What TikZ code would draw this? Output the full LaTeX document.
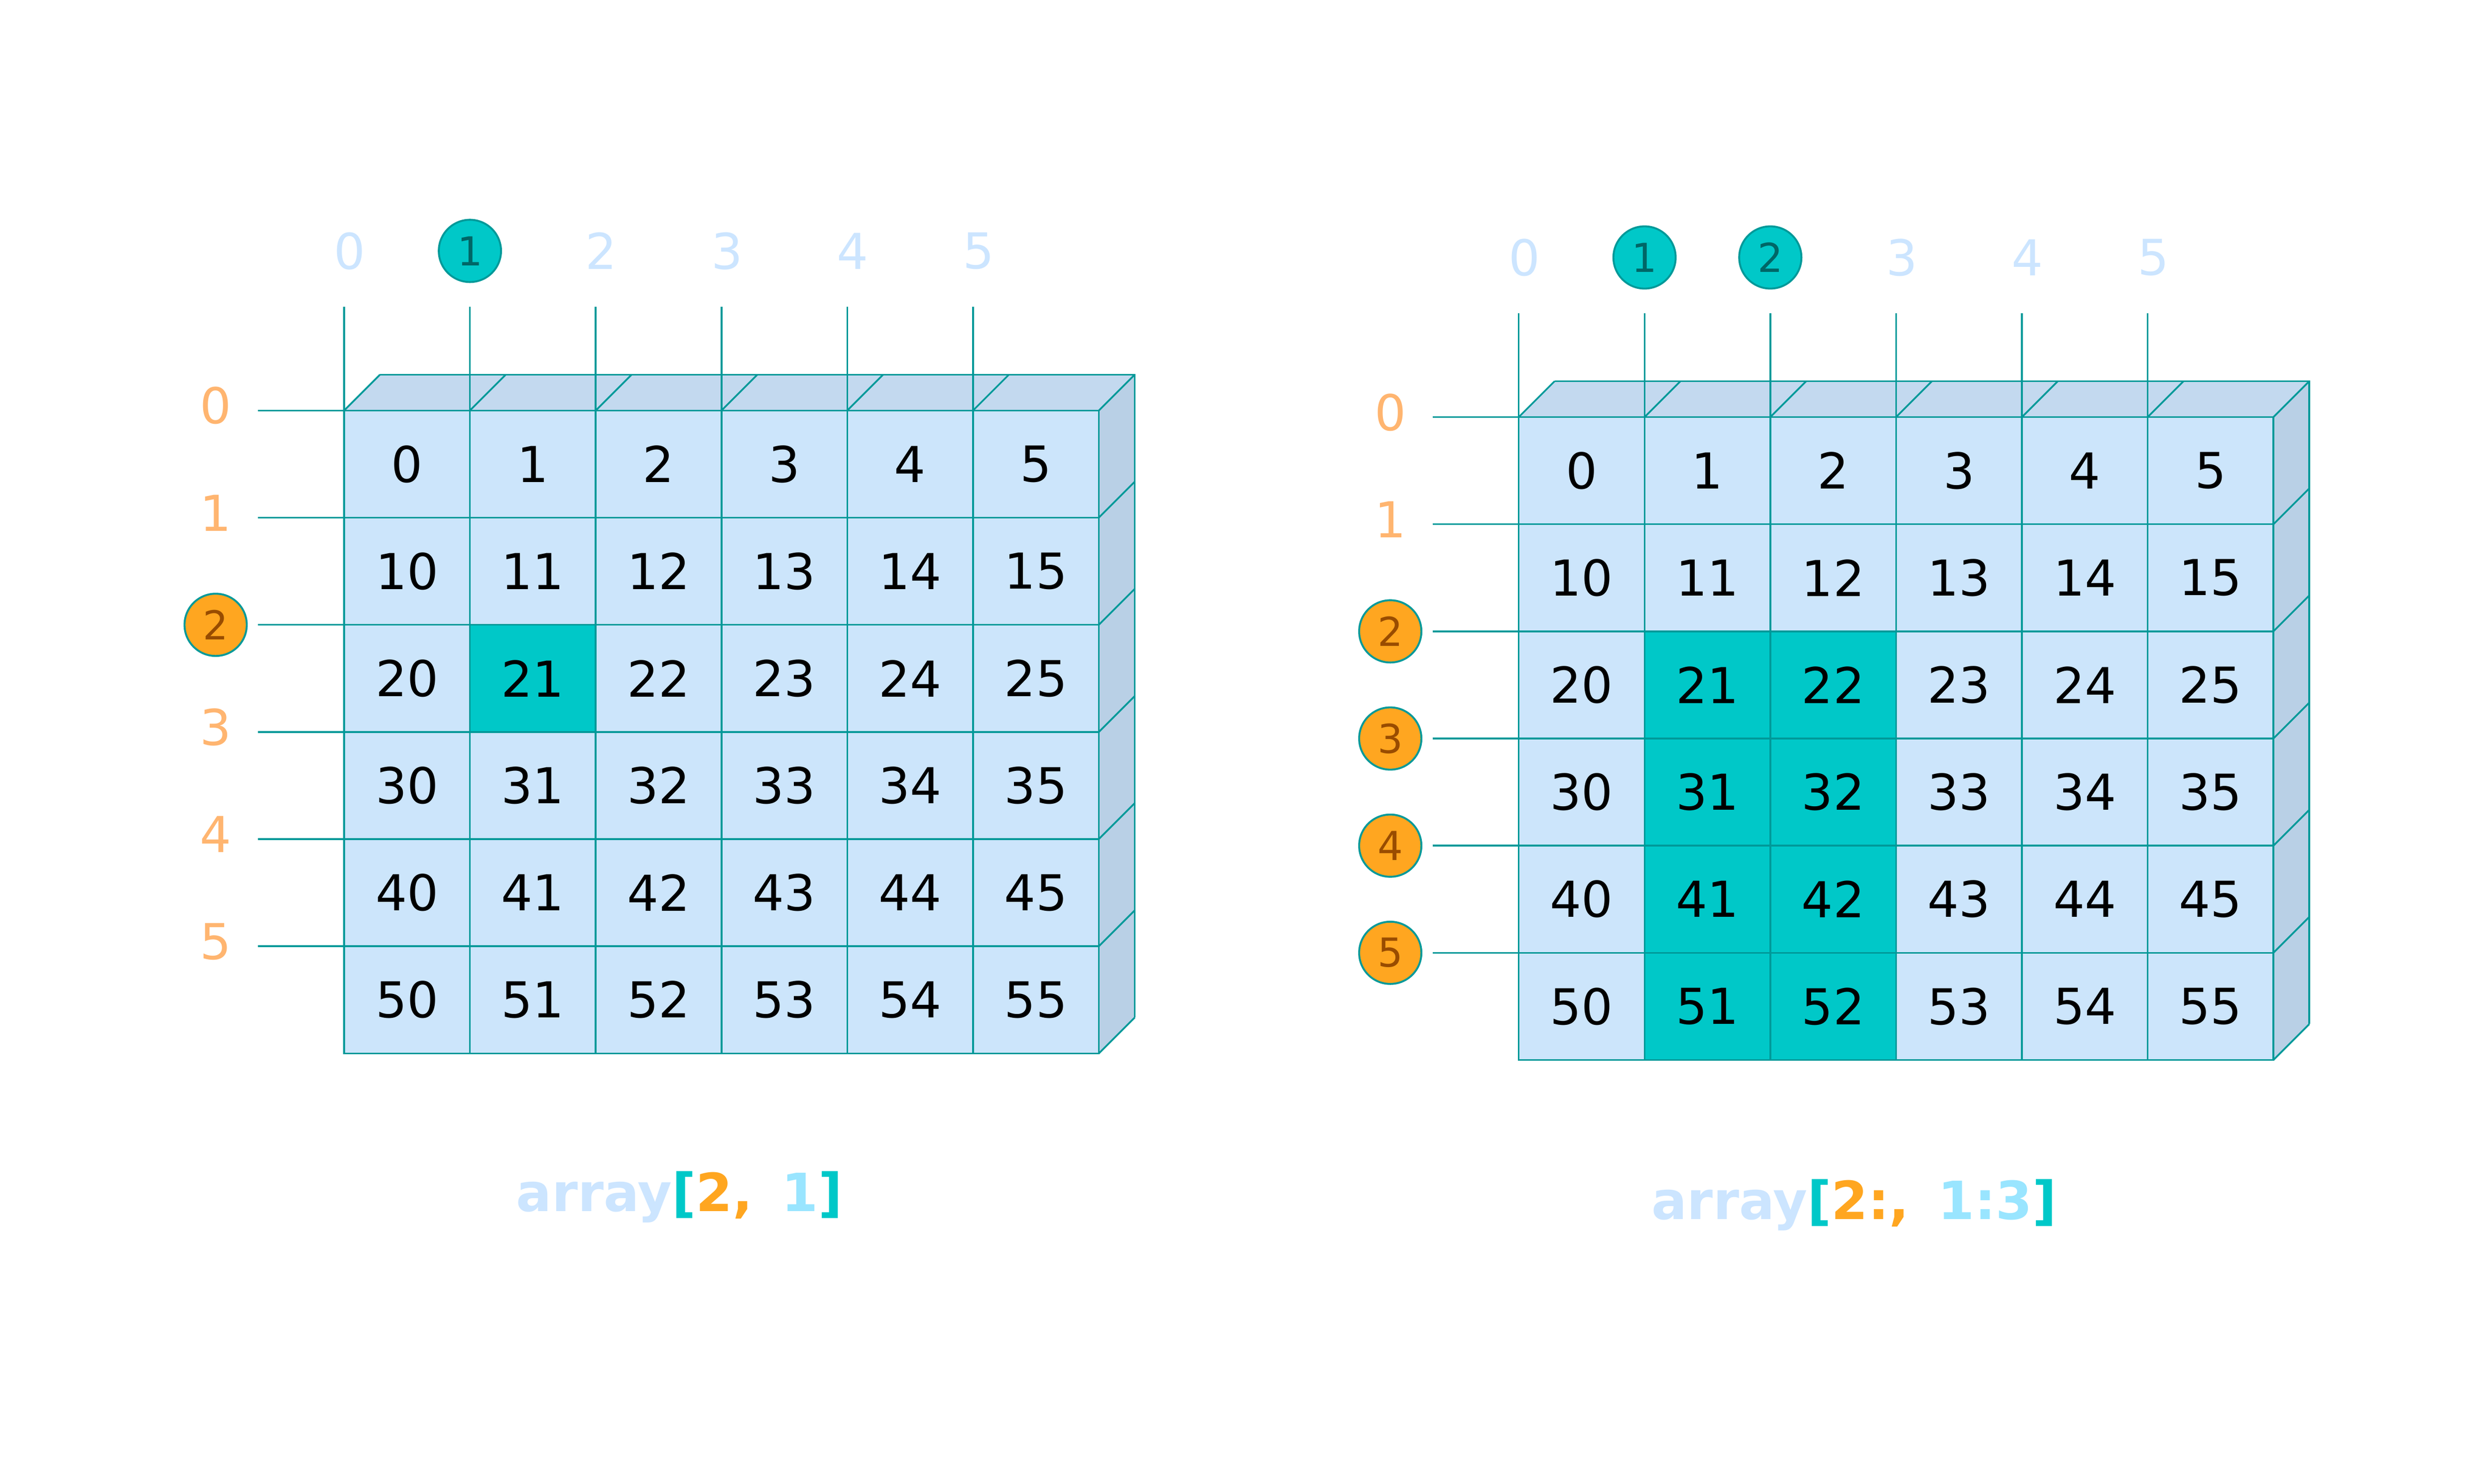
\documentclass[tikz,border=0pt]{standalone}
\usepackage{fontspec}
\setmainfont{DejaVu Sans}
\definecolor{cellfill}{HTML}{CCE5FB}
\definecolor{topfill}{HTML}{C3D9EF}
\definecolor{sidefill}{HTML}{B9D0E6}
\definecolor{linecol}{HTML}{009999}
\definecolor{hlfill}{HTML}{00C8C8}
\definecolor{collabcol}{HTML}{CCE5FF}
\definecolor{rowlabcol}{HTML}{FFB570}
\definecolor{orangefill}{HTML}{FFA620}
\definecolor{browntext}{HTML}{994C00}
\definecolor{tealtext}{HTML}{006666}
\definecolor{cyantext}{HTML}{99E5FF}
\tikzset{
  gridline/.style={draw=linecol, line width=1.1pt},
  cellbox/.style={gridline, anchor=north west, minimum width=78.8pt, minimum height=67.13pt, inner sep=0pt, outer sep=0pt, font=\fontsize{31}{31}\selectfont, text=black},
  collab/.style={text=collabcol, font=\fontsize{31}{31}\selectfont, inner sep=0pt},
  rowlab/.style={text=rowlabcol, font=\fontsize{31}{31}\selectfont, inner sep=0pt},
  colcirc/.style={circle, draw=linecol, line width=1.2pt, fill=hlfill, minimum size=39pt, inner sep=0pt, text=tealtext, font=\fontsize{25}{25}\selectfont},
  rowcirc/.style={circle, draw=linecol, line width=1.2pt, fill=orangefill, minimum size=39pt, inner sep=0pt, text=browntext, font=\fontsize{25}{25}\selectfont},
  bottomtext/.style={font=\fontsize{33}{33}\selectfont\bfseries, inner sep=0pt}
}
% #1 prefix, #2 x, #3 y, #4 rmin, #5 rmax, #6 cmin, #7 cmax
\newcommand\npgrid[7]{%
\begin{scope}[shift={(#2,#3)}]
  \fill[topfill] (0,0) -- (22.5,-22.5) -- (495.3,-22.5) -- (472.8,0) -- cycle;
  \fill[sidefill] (472.8,0) -- (495.3,-22.5) -- (495.3,380.3) -- (472.8,402.8) -- cycle;
  \foreach \c in {0,...,6} \draw[gridline] (\c*78.8,0) -- ++(22.5,-22.5);
  \draw[gridline] (22.5,-22.5) -- (495.3,-22.5) -- (495.3,380.3);
  \foreach \r in {1,...,6} \draw[gridline] (472.8,\r*67.13) -- ++(22.5,-22.5);
  \foreach \r in {0,...,5}{
    \foreach \c in {0,...,5}{
      \pgfmathtruncatemacro\v{10*\r+\c}
      \pgfmathtruncatemacro\hl{and(and(\r>=#4,\r<=#5),and(\c>=#6,\c<=#7))}
      \ifnum\hl=1 \def\cf{hlfill}\else\def\cf{cellfill}\fi
      \node[cellbox, fill=\cf] (#1-\r-\c) at (\c*78.8,\r*67.13) {\v};
    }
  }
  \foreach \c in {0,...,5}{
    \coordinate (#1-ct\c) at (\c*78.8,-65);
    \draw[gridline] (#1-ct\c) -- (#1-0-\c.north west);
    \pgfmathtruncatemacro\hl{and(\c>=#6,\c<=#7)}
    \ifnum\hl=1
      \node[colcirc] (#1-cl\c) at (\c*78.8,-100) {\c};
    \else
      \node[collab] (#1-cl\c) at (\c*78.8+3.5,-100) {\c};
    \fi
  }
  \foreach \r in {0,...,5}{
    \coordinate (#1-rt\r) at (-54,\r*67.13);
    \draw[gridline] (#1-rt\r) -- (#1-\r-0.north west);
    \pgfmathtruncatemacro\hl{and(\r>=#4,\r<=#5)}
    \ifnum\hl=1
      \node[rowcirc] (#1-rl\r) at (-80.5,\r*67.13) {\r};
    \else
      \node[rowlab] (#1-rl\r) at (-80.5,\r*67.13-3) {\r};
    \fi
  }
\end{scope}}
\begin{document}
\begin{tikzpicture}[x=1pt,y=-1pt]
\useasboundingbox (0,0) rectangle (1560,929.7);
\npgrid{a}{215.6}{257.2}{2}{2}{1}{1}
\npgrid{b}{951.5}{261.3}{2}{5}{1}{2}
\node[bottomtext] (t1) at (425.6,750) {\textcolor{collabcol}{array}\textcolor{hlfill}{[}\textcolor{orangefill}{2,}\hspace{0.55em}\textcolor{cyantext}{1}\textcolor{hlfill}{]}};
\node[bottomtext] (t2) at (1161.6,755) {\textcolor{collabcol}{array}\textcolor{hlfill}{[}\textcolor{orangefill}{2:,}\hspace{0.55em}\textcolor{cyantext}{1:3}\textcolor{hlfill}{]}};
\end{tikzpicture}
\end{document}
